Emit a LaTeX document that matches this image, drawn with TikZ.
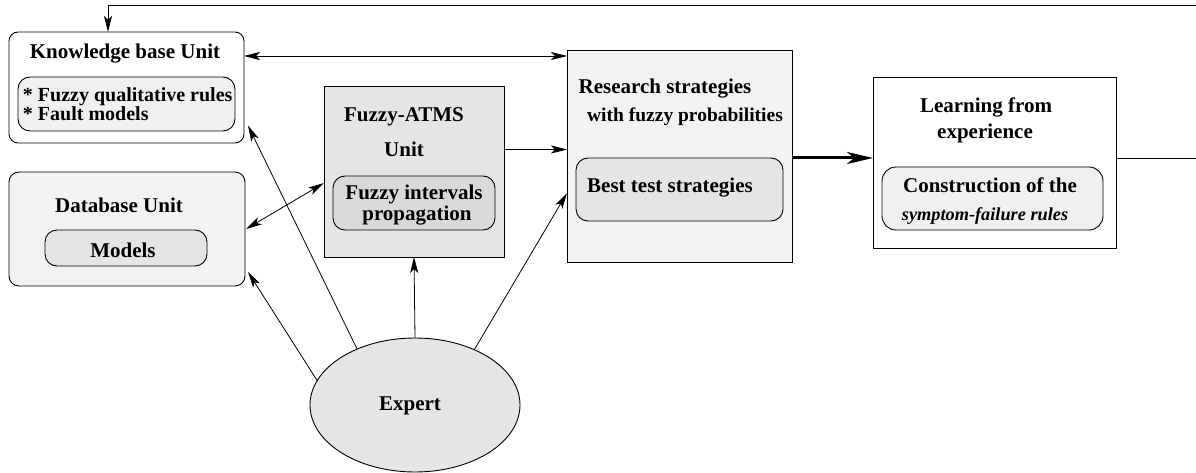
\documentclass[tikz,border=0pt]{standalone}
\usepackage{fontspec}
\setmainfont{Liberation Serif}
\usetikzlibrary{shapes.geometric,arrows.meta,calc}
\begin{document}
\begin{tikzpicture}[x=1pt,y=-1pt,
  every node/.style={inner sep=0pt,outer sep=0pt},
  inbox/.style={draw,line width=0.9pt,rounded corners=12pt},
  ttl/.style={anchor=base,font=\fontsize{21}{22}\selectfont\bfseries},
  sub/.style={anchor=base,font=\fontsize{19.5}{20}\selectfont\bfseries},
  arr/.style={line width=0.8pt,-{Stealth[length=16pt,width=8pt,inset=4pt]}},
  darr/.style={line width=0.8pt,{Stealth[length=16pt,width=8pt,inset=4pt]}-{Stealth[length=16pt,width=8pt,inset=4pt]}},
  ln/.style={line width=0.8pt}
]
\useasboundingbox (0,0) rectangle (1196,473);

% Knowledge base
\node[draw,line width=0.9pt,rounded corners=9pt,fill=white,minimum width=235pt,minimum height=111pt] (kb) at (126.5,87.5) {};
\node[inbox,fill=gray!12,minimum width=217pt,minimum height=54pt] (kbin) at (126.5,104) {};
\node[ttl] (kbt) at (125,59) {Knowledge base Unit};
\node[ttl,anchor=base west,align=left,font=\fontsize{20}{18}\selectfont\bfseries] (kbr) at (23,121) {* Fuzzy qualitative rules\\* Fault models};

% Database
\node[draw,line width=0.9pt,rounded corners=10pt,fill=gray!10,minimum width=236pt,minimum height=114pt] (db) at (127,229) {};
\node[inbox,fill=gray!20,minimum width=162pt,minimum height=36pt] (dbin) at (126,248) {};
\node[ttl] (dbt) at (119,212) {Database Unit};
\node[ttl] (dbm) at (123,257) {Models};

% Fuzzy-ATMS
\node[draw,line width=0.9pt,fill=gray!20,minimum width=180pt,minimum height=171pt] (atms) at (414,171.5) {};
\node[inbox,fill=gray!30,minimum width=162pt,minimum height=54pt] (atmsin) at (414,203) {};
\node[ttl] (atmst) at (404,122) {Fuzzy-ATMS};
\node[ttl] (atmsu) at (404,157) {Unit};
\node[ttl,align=center,font=\fontsize{21}{18}\selectfont\bfseries] (atmsx) at (414,220) {Fuzzy intervals\\\hspace*{6pt}propagation};

% Research
\node[draw,line width=0.9pt,fill=gray!10,minimum width=225pt,minimum height=212pt] (res) at (679.5,156) {};
\node[inbox,fill=gray!20,minimum width=207pt,minimum height=63pt] (resin) at (679.5,189.5) {};
\node[ttl] (rest) at (665,94) {Research strategies};
\node[sub] (resw) at (685,122) {with fuzzy probabilities};
\node[ttl] (resb) at (670,193) {Best test strategies};

% Learning
\node[draw,line width=0.9pt,fill=white,minimum width=243pt,minimum height=171pt] (learn) at (994.5,162.5) {};
\node[inbox,rounded corners=14pt,fill=gray!12,minimum width=221pt,minimum height=63pt] (learnin) at (992.5,198.5) {};
\node[ttl] (learnt1) at (986,113) {Learning from};
\node[ttl] (learnt2) at (985,139) {experience};
\node[ttl] (learnc) at (990,193) {Construction of the};
\node[sub,font=\fontsize{18.3}{20}\selectfont\bfseries\itshape] (learns) at (985,220) {symptom-failure rules};

% Expert
\node[draw,line width=0.9pt,ellipse,fill=gray!20,minimum width=210pt,minimum height=134pt] (expert) at (415,405) {};
\node[ttl] (expt) at (410,410) {Expert};

% connectors
\coordinate (tr) at (1196,5);
\coordinate (rr) at (1196,158);
\draw[arr] (tr) -| ([xshift=99pt]kb.north west);
\draw[darr] ([yshift=-24pt]kb.north east) -- ([yshift=-24pt]kb.north east -| res.west);
\draw[arr] ([yshift=22pt]atms.east) -- ([yshift=22pt]atms.east -| res.west);
\draw[line width=3pt,-{Stealth[length=26pt,width=12pt,inset=7pt]}] ([yshift=-2pt]res.east) -- ([yshift=-2pt]res.east -| learn.west);
\draw[ln] ([yshift=4.5pt]learn.east) -- (rr);
\draw[darr] ([xshift=1pt]db.east) -- ([yshift=-11.5pt]atms.west);
\draw[arr] (expert.166) -- ([xshift=3pt,yshift=-43pt]db.east);
\draw[arr] (expert.136) -- ([xshift=4pt,yshift=-38pt]kb.east);
\draw[arr] (expert.north) -- (atms.south);
\draw[arr] (expert.43) -- ([yshift=-37pt]res.west);
\end{tikzpicture}
\end{document}
